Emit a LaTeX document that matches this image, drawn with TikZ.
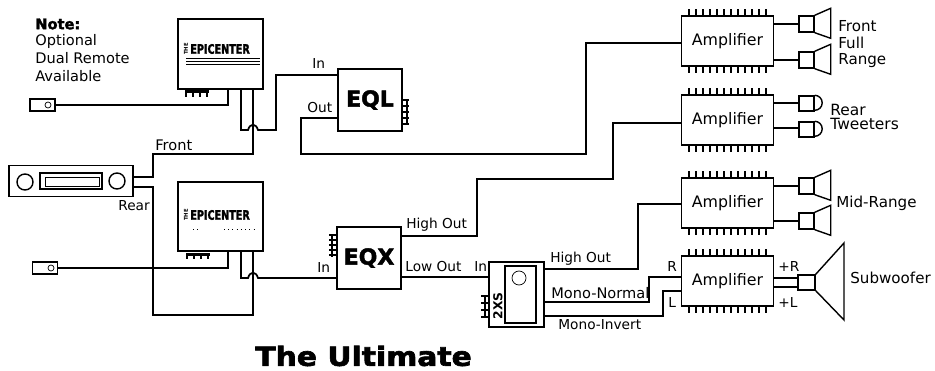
\documentclass[tikz,border=0pt]{standalone}
\usepackage{fontspec}
\setmainfont{DejaVu Sans}
\newfontfamily\heavyfont[BoldFeatures={FakeBold=2}]{DejaVu Sans}
\newfontfamily\widefont[FakeStretch=1.13,BoldFeatures={FakeBold=2.5}]{DejaVu Sans}
\newfontfamily\logofont[FakeStretch=0.74,BoldFeatures={FakeBold=2}]{DejaVu Sans}
\newcommand{\labelfont}{\fontsize{7.8}{10}\selectfont}
\newcommand{\wordfont}{\fontsize{8.3}{10}\selectfont}
\tikzset{
  unit/.style={draw, line width=0.8pt, inner sep=0pt},
  wire/.style={line width=1pt},
  comb/.style={line width=0.7pt},
  tag/.style={font=\labelfont, inner sep=0pt, anchor=west, align=left},
  badge/.style={font=\fontsize{12.5}{12.5}\selectfont\heavyfont\bfseries},
  logo/.style={font=\fontsize{7.4}{7.4}\selectfont\logofont\bfseries, inner sep=0pt, anchor=west},
  logothe/.style={font=\fontsize{3}{3}\selectfont\bfseries, inner sep=0pt, rotate=90},
}

\begin{document}
\begin{tikzpicture}[x=0.02cm, y=-0.02cm]
        \useasboundingbox (0,0) rectangle (935,371);

        %% units
        \node[unit, minimum width=1.7cm, minimum height=1.4cm] (epiTop) at (220.5,54) {};
        \node[unit, minimum width=1.7cm, minimum height=1.38cm] (epiBot) at (220.5,216.5) {};
        \node[unit, minimum width=0.5cm, minimum height=0.24cm] (remoteTop) at (42.5,105) {};
        \node[unit, minimum width=0.5cm, minimum height=0.24cm] (remoteBot) at (45,268) {};
        \node[unit, minimum width=2.48cm, minimum height=0.62cm] (radio) at (71,181) {};
        \node[unit, badge, minimum width=1.28cm, minimum height=1.24cm] (eql) at (370,100) {EQL};
        \node[unit, badge, minimum width=1.28cm, minimum height=1.24cm] (eqx) at (369,258) {EQX};
        \node[unit, minimum width=1.1cm, minimum height=1.3cm] (xover) at (516.5,294.5) {};
        \node[unit, minimum width=0.62cm, minimum height=1.14cm] (xoverPanel) at (520.5,294.5) {};

        % amplifiers with their fins
        \foreach \name/\ycen in {ampA/41, ampB/120, ampC/203, ampD/281}{
            \node[unit, minimum width=1.84cm, minimum height=1cm, font=\fontsize{9}{9}\selectfont] (\name) at (727.5,\ycen) {Amplifier};
            \foreach \xfin in {0,...,11}{
                \draw[comb] (689+7*\xfin,\ycen-25) -- ++(0,-7);
                \draw[comb] (689+7*\xfin,\ycen+25) -- ++(0,7);
            }
        }

        % speakers
        \foreach \name/\ycen in {spkA/24, spkB/60, spkC/186, spkD/221}{
            \node[unit, minimum width=0.3cm, minimum height=0.32cm] (\name) at (806.5,\ycen) {};
            \draw[unit] (\name.north east) -- ++(16,-7) -- ++(0,30) -- (\name.south east);
        }
        \foreach \name/\ycen in {twtA/103.5, twtB/129.5}{
            \node[unit, minimum width=0.3cm, minimum height=0.3cm] (\name) at (806.5,\ycen) {};
            \draw[unit] (\name.north east) arc (90:-90:7.5 and -7.5);
        }
        \node[unit, minimum width=0.34cm, minimum height=0.3cm] (sub) at (806.5,282.5) {};
        \draw[unit] (sub.north east) -- (844,243) -- (844,320) -- (sub.south east);

        %% radio and remote details
        \draw[unit] (25,182) circle (8);
        \draw[unit] (117,181) circle (8);
        \draw[line width=1pt] (40,173) rectangle (102,189);
        \draw[line width=0.5pt] (45,177) rectangle (99,186);
        \draw (48,105) circle (3);
        \draw (51,268) circle (3);
        \draw (519,278) circle (7);

        % fins on the small units
        \foreach \xfin in {186,193,...,207}{
            \draw[comb] (\xfin,91) -- ++(0,6);
            \draw[comb] (\xfin+1,253) -- ++(0,6);
        }
        \draw[line width=1.4pt] (epiTop.south -| 185,0) ++(0,2) -- ++(24,0);
        \draw[line width=1.4pt] (epiBot.south -| 187,0) ++(0,3) -- ++(23,0);
        \foreach \yfin in {100,106,...,124}{
            \draw[comb] (eql.east |- 0,\yfin) -- ++(6,0);
        }
        \draw[line width=1pt] (407,100) -- (407,124);
        \foreach \yfin in {235,240,...,257}{
            \draw[comb] (eqx.west |- 0,\yfin) -- ++(-7,0);
        }
        \draw[line width=1pt] (332,235) -- (332,257);
        \foreach \yfin in {296,303,...,318}{
            \draw[comb] (xover.west |- 0,\yfin) -- ++(-7,0);
        }
        \draw[comb] (485,296) -- (485,317);

        %% wires
        \draw[wire] (remoteTop.east) -- (228,105) -- (epiTop.south -| 228,0);
        \draw[wire] (remoteBot.east) -- (228,268) -- (epiBot.south -| 228,0);
        \draw[wire] (radio.east |- 0,177) -- (153,177) -- (153,154) -- (253,154) -- (epiTop.south -| 253,0);
        \draw[wire] (radio.east |- 0,187) -- (153,187) -- (153,315) -- (253,315) -- (epiBot.south -| 253,0);
        \draw[wire] (epiTop.south -| 241,0) -- (241,130) -- (248,130) .. controls (250,123) and (256,123) .. (258,130) -- (276,130) -- (276,75) -- (eql.west |- 0,75);
        \draw[wire] (epiBot.south -| 241,0) -- (241,278) -- (248,278) .. controls (250,271) and (256,271) .. (258,278) -- (eqx.west |- 0,278);
        \draw[wire] (eql.west |- 0,118) -- (301,118) -- (301,154) -- (586,154) -- (586,43) -- (ampA.west |- 0,43);
        \draw[wire] (eqx.east |- 0,236) -- (477,236) -- (477,179) -- (613,179) -- (613,123) -- (ampB.west |- 0,123);
        \draw[wire] (eqx.east |- 0,277) -- (xover.west |- 0,277);
        \draw[wire] (xover.east |- 0,269) -- (638,269) -- (638,204) -- (ampC.west |- 0,204);
        \draw[wire] (xover.east |- 0,302) -- (649,302) -- (649,277) -- (ampD.west |- 0,277);
        \draw[wire] (xover.east |- 0,316) -- (663,316) -- (663,291) -- (ampD.west |- 0,291);
        \draw[wire] (ampA.east |- spkA) -- (spkA.west);
        \draw[wire] (ampA.east |- spkB) -- (spkB.west);
        \draw[wire] (ampB.east |- 0,103) -- (twtA.west |- 0,103);
        \draw[wire] (ampB.east |- 0,128) -- (twtB.west |- 0,128);
        \draw[wire] (ampC.east |- spkC) -- (spkC.west);
        \draw[wire] (ampC.east |- spkD) -- (spkD.west);
        \draw[wire] (ampD.east |- 0,278) -- (sub.west |- 0,278);
        \draw[wire] (ampD.east |- 0,287) -- (sub.west |- 0,287);

        %% labels
        \node[tag, font=\wordfont\heavyfont\bfseries] (noteHead) at (35,24) {Note:};
        \node[tag, font=\fontsize{8.3}{10.2}\selectfont] (note) at (35,58) {Optional\\Dual Remote\\Available};
        \node[tag, font=\wordfont] (lblFront) at (155,145) {Front};
        \node[tag] (lblRear) at (118,206) {Rear};
        \node[tag] (lblIn) at (312,64) {In};
        \node[tag] (lblOut) at (307,108) {Out};
        \node[tag] (lblInX) at (317,268) {In};
        \node[tag] (lblHigh) at (406,225) {High Out};
        \node[tag] (lblLow) at (405,267) {Low Out};
        \node[tag] (lblInC) at (474,267) {In};
        \node[tag] (lblHighC) at (550,259) {High Out};
        \node[tag, font=\wordfont] (lblNormal) at (551,293) {Mono-Normal};
        \node[tag] (lblInvert) at (558,325) {Mono-Invert};
        \node[tag] (lblR) at (667,267) {R};
        \node[tag] (lblL) at (668,303) {L};
        \node[tag] (lblPlusR) at (778,267) {+R};
        \node[tag] (lblPlusL) at (778,303) {+L};
        \node[tag, font=\fontsize{8.6}{9.4}\selectfont] (lblFull) at (838,44.5) {Front\\Full\\Range};
        \node[tag, font=\fontsize{8.8}{8.2}\selectfont] (lblTweet) at (830,117) {Rear\\Tweeters};
        \node[tag, font=\fontsize{8.6}{10}\selectfont] (lblMid) at (836,203) {Mid-Range};
        \node[tag, font=\fontsize{8.6}{10}\selectfont] (lblSub) at (850,278) {Subwoofer};
        \node[tag, font=\fontsize{15}{15}\selectfont\widefont\bfseries] (title) at (255,356) {The Ultimate};
        \node[font=\fontsize{7}{7}\selectfont\bfseries, inner sep=0pt, rotate=90] (xsBadge) at (498,306) {2XS};

        %% logos
        \node[logo] (logoTop) at (190,49) {EPICENTER};
        \node[logothe] (logoTopThe) at (186,49) {THE};
        \node[logo] (logoBot) at (190,215) {EPICENTER};
        \node[logothe] (logoBotThe) at (186,215) {THE};
        \foreach \yrule in {58,61,64}{
            \draw[line width=0.4pt] (186,\yrule) -- (260,\yrule);
        }
        \draw[line width=0.4pt, dotted] (193,229) -- (198,229) (224,229) -- (256,229);
\end{tikzpicture}
\end{document}
